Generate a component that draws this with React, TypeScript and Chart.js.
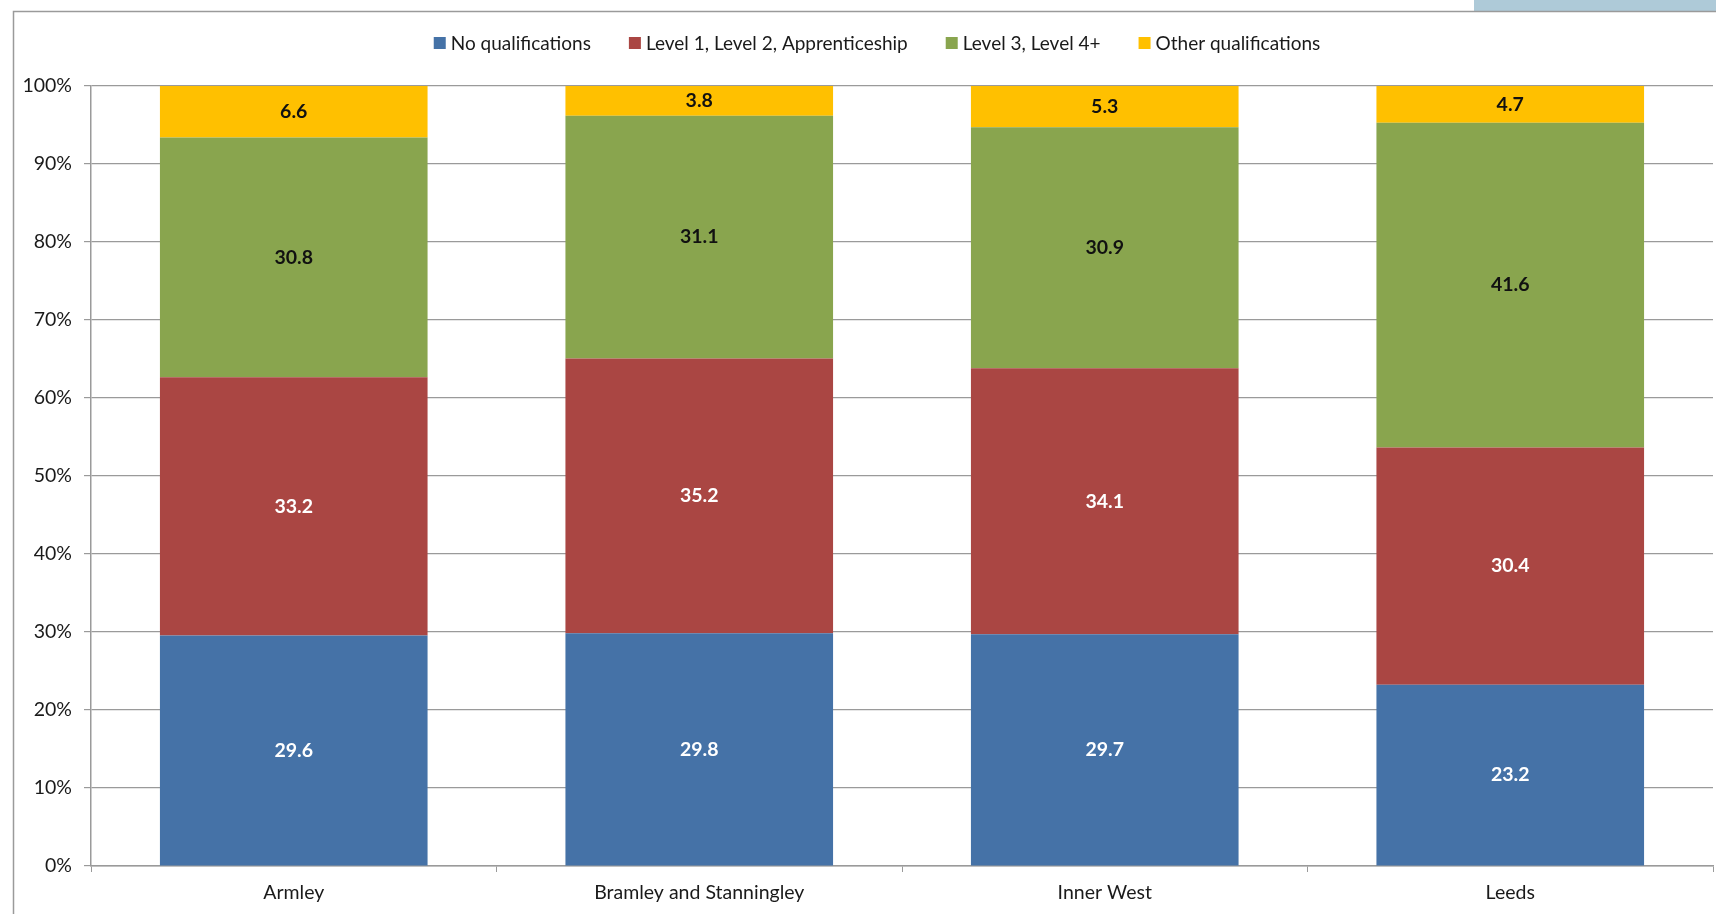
import React, { useEffect, useRef } from "react";
import { Chart, registerables } from "chart.js";

Chart.register(...registerables);

const categories = ["Armley", "Bramley and Stanningley", "Inner West", "Leeds"];
const seriesNames = ["No qualifications", "Level 1, Level 2, Apprenticeship", "Level 3, Level 4+", "Other qualifications"];
const noQualifications = [29.6, 29.8, 29.7, 23.2];
const level12Apprenticeship = [33.2, 35.2, 34.1, 30.4];
const level34 = [30.8, 31.1, 30.9, 41.6];
const otherQualifications = [6.6, 3.8, 5.3, 4.7];
const seriesColors = ["#4572A7", "#AA4643", "#89A54E", "#FFC000"];
const labelColors = ["#ffffff", "#ffffff", "#111111", "#111111"];

const FONT = "Lato, 'Noto Sans', sans-serif";

export default function App() {
  const ref = useRef<HTMLCanvasElement | null>(null);

  useEffect(() => {
    document.body.style.margin = "0";
    const canvas = ref.current!;
    const raw = [noQualifications, level12Apprenticeship, level34, otherQualifications];
    const totals = categories.map((_, i) => raw.reduce((s, arr) => s + arr[i], 0));

    const backgroundPlugin = {
      id: "bgFrame",
      beforeDraw(chart: any) {
        const ctx = chart.ctx;
        ctx.save();
        ctx.fillStyle = "#ffffff";
        ctx.fillRect(0, 0, chart.width, chart.height);
        ctx.fillStyle = "#AECAD8";
        ctx.fillRect(1474, 0, chart.width - 1474, 11);
        ctx.strokeStyle = "#9a9a9a";
        ctx.lineWidth = 1.5;
        ctx.beginPath();
        ctx.moveTo(13.5, chart.height);
        ctx.lineTo(13.5, 11.5);
        ctx.lineTo(chart.width, 11.5);
        ctx.stroke();
        ctx.restore();
      },
    };

    const legendPlugin = {
      id: "customLegend",
      afterDraw(chart: any) {
        const ctx = chart.ctx;
        ctx.save();
        ctx.font = `19px ${FONT}`;
        const box = 12;
        const gapBox = 5;
        const gapItem = 38;
        const widths = seriesNames.map((n) => ctx.measureText(n).width);
        const total = widths.reduce((s, w) => s + box + gapBox + w, 0) + gapItem * (seriesNames.length - 1);
        let x = 877 - total / 2;
        const y = 43;
        ctx.textBaseline = "middle";
        ctx.textAlign = "left";
        seriesNames.forEach((n, i) => {
          ctx.fillStyle = seriesColors[i];
          ctx.fillRect(x, y - box / 2, box, box);
          ctx.fillStyle = "#1a1a1a";
          ctx.fillText(n, x + box + gapBox, y + 1);
          x += box + gapBox + widths[i] + gapItem;
        });
        ctx.restore();
      },
    };

    const dataLabelPlugin = {
      id: "dataLabels",
      afterDatasetsDraw(chart: any) {
        const ctx = chart.ctx;
        ctx.save();
        ctx.font = `bold 19.5px ${FONT}`;
        ctx.textAlign = "center";
        ctx.textBaseline = "middle";
        chart.data.datasets.forEach((ds: any, di: number) => {
          const meta = chart.getDatasetMeta(di);
          meta.data.forEach((el: any, i: number) => {
            const cy = (el.y + el.base) / 2;
            ctx.fillStyle = labelColors[di];
            ctx.fillText(raw[di][i].toFixed(1), el.x, cy);
          });
        });
        ctx.restore();
      },
    };

    const chart = new Chart(canvas, {
      type: "bar",
      data: {
        labels: categories,
        datasets: raw.map((arr, di) => ({
          label: seriesNames[di],
          data: arr.map((v, i) => (v / totals[i]) * 100),
          backgroundColor: seriesColors[di],
          borderWidth: 0,
          categoryPercentage: 1,
          barPercentage: 0.66,
        })),
      },
      options: {
        responsive: false,
        animation: false,
        devicePixelRatio: 1,
        layout: { padding: { top: 86, right: 3, left: 0, bottom: 0 } },
        plugins: {
          legend: { display: false },
          tooltip: { enabled: false },
        },
        scales: {
          x: {
            stacked: true,
            grid: { display: true, drawOnChartArea: false, offset: true, tickLength: 6, color: "#9a9a9a" },
            border: { display: true, color: "#9a9a9a", width: 1.5 },
            ticks: { font: { family: FONT, size: 19.5 }, color: "#1a1a1a", padding: 9 },
            afterFit(scale: any) {
              scale.height = 48;
            },
          },
          y: {
            stacked: true,
            min: 0,
            max: 100,
            ticks: {
              stepSize: 10,
              font: { family: FONT, size: 19.5 },
              color: "#1a1a1a",
              padding: 12,
              callback: (v: any) => `${v}%`,
            },
            grid: { color: "#9a9a9a", tickLength: 7, lineWidth: 1.2 },
            border: { display: true, color: "#9a9a9a", width: 1.5 },
            afterFit(scale: any) {
              scale.width = 91;
            },
          },
        },
      },
      plugins: [backgroundPlugin, legendPlugin, dataLabelPlugin],
    });

    return () => chart.destroy();
  }, []);

  return (
    <div style={{ width: 1716, height: 914 }}>
      <canvas ref={ref} width={1716} height={914} style={{ display: "block", width: 1716, height: 914 }} />
    </div>
  );
}
